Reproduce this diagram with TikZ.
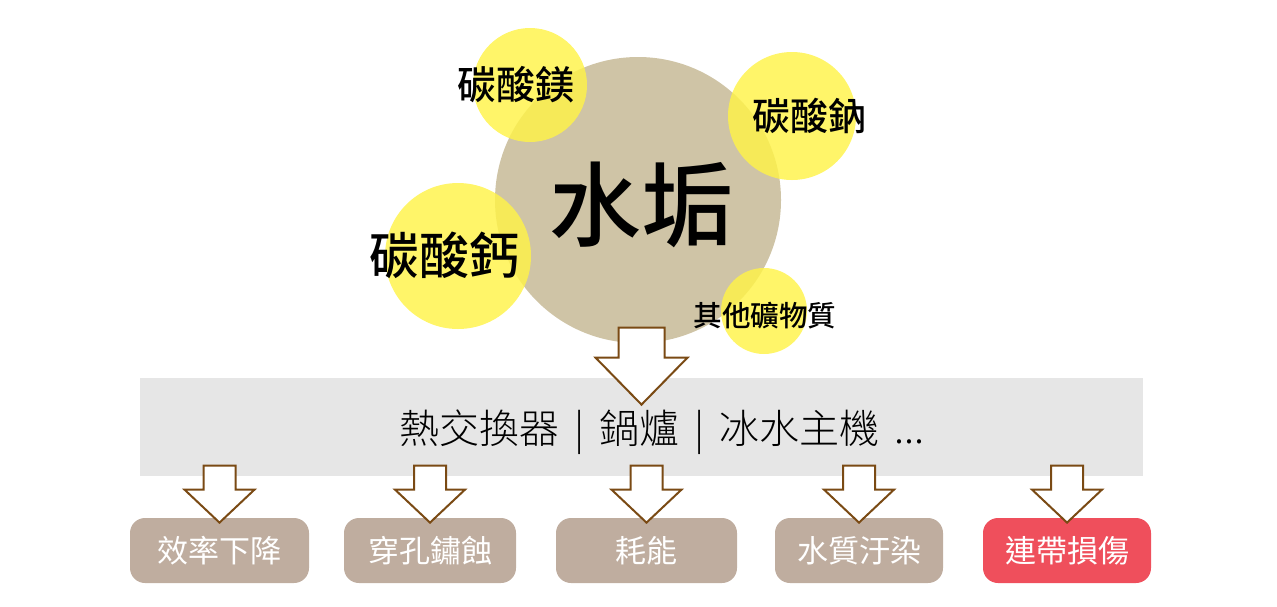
\documentclass[tikz,border=0pt]{standalone}
\usepackage{fontspec}
\usepackage{xcolor}
\newfontfamily\cjk{Noto Sans CJK TC}
\newfontfamily\cjkmed{Noto Sans CJK TC Medium}
\newfontfamily\cjklight{Noto Sans CJK TC Light}
\usetikzlibrary{positioning}
\definecolor{scaletan}{RGB}{207,196,166}
\definecolor{mineral}{RGB}{255,243,72}
\definecolor{bandgray}{RGB}{230,230,230}
\definecolor{effecttan}{RGB}{191,173,159}
\definecolor{harmred}{RGB}{239,79,92}
\definecolor{arrowbrown}{RGB}{122,74,20}

\begin{document}
\begin{tikzpicture}[
  x=0.5pt, y=-0.5pt,
  tanblob/.style={circle, fill=scaletan, inner sep=0, minimum size=143pt},
  yelblob/.style={circle, fill=mineral, fill opacity=0.82, inner sep=0},
  cjktxt/.style={font=\cjkmed\fontsize{#1}{#1}\selectfont, inner sep=0},
  effect/.style={rounded corners=7.5pt, fill=effecttan, text=white, minimum height=32.5pt, inner sep=0, font=\cjk\fontsize{15.5}{16}\selectfont},
  harm/.style={effect, fill=harmred},
  hollow/.style={draw=arrowbrown, fill=white, line width=1pt, line join=miter}
]
\useasboundingbox (0,0) rectangle (1277,606);

% scale and what it is made of
\node[tanblob] (scale) at (638,200) {};
\node[yelblob, minimum size=57pt] (mg) at (530,85) {};
\node[yelblob, minimum size=64pt] (na) at (792,116) {};
\node[yelblob, minimum size=73pt] (ca) at (458,256) {};
\node[yelblob, minimum size=43pt] (other) at (764,311) {};

\node[cjktxt=46] (scaletxt) at (641,205) {水垢};
\node[cjktxt=19.5] (mgtxt) at (516,85) {碳酸鎂};
\node[cjktxt=19] (natxt) at (809,116) {碳酸鈉};
\node[cjktxt=25] (catxt) at (444,255) {碳酸鈣};
\node[cjktxt=14.3] (othertxt) at (765,316) {其他礦物質};

% equipment band
\node[fill=bandgray, minimum width=501.5pt, minimum height=49pt, inner sep=0] (band) at (641.5,427) {};
\node[inner sep=0, font=\cjklight\fontsize{20}{20}\selectfont] (plant) at (662,432)
  {熱交換器\hspace{7.5pt}|\hspace{7.5pt}鍋爐\hspace{7.5pt}|\hspace{7.5pt}冰水主機\hspace{7.5pt}...};

% consequences
\node[effect, minimum width=89.5pt] (drop) at (219.5,550.5) {效率下降};
\node[effect, minimum width=86pt] (pit) at (430,550.5) {穿孔鏽蝕};
\node[effect, minimum width=90.5pt] (cost) at (646.5,550.5) {耗能};
\node[effect, minimum width=84pt] (water) at (859,550.5) {水質汙染};
\node[harm, minimum width=84pt] (damage) at (1067,550.5) {連帶損傷};

\draw[hollow] ([yshift=-13.5pt]band.north) -- ++(-46,-47) -- ++(23,0) -- ++(0,-30) -- ++(46,0) -- ++(0,30) -- ++(23,0) -- cycle;
\draw[hollow] ([yshift=-2.5pt]drop.north) -- ++(-35,-33) -- ++(19,0) -- ++(0,-24) -- ++(32,0) -- ++(0,24) -- ++(19,0) -- cycle;
\draw[hollow] ([yshift=-2.5pt]pit.north) -- ++(-35,-33) -- ++(19,0) -- ++(0,-24) -- ++(32,0) -- ++(0,24) -- ++(19,0) -- cycle;
\draw[hollow] ([yshift=-2.5pt]cost.north) -- ++(-35,-33) -- ++(19,0) -- ++(0,-24) -- ++(32,0) -- ++(0,24) -- ++(19,0) -- cycle;
\draw[hollow] ([yshift=-2.5pt]water.north) -- ++(-35,-33) -- ++(19,0) -- ++(0,-24) -- ++(32,0) -- ++(0,24) -- ++(19,0) -- cycle;
\draw[hollow] ([yshift=-2.5pt]damage.north) -- ++(-35,-33) -- ++(19,0) -- ++(0,-24) -- ++(32,0) -- ++(0,24) -- ++(19,0) -- cycle;
\end{tikzpicture}
\end{document}
